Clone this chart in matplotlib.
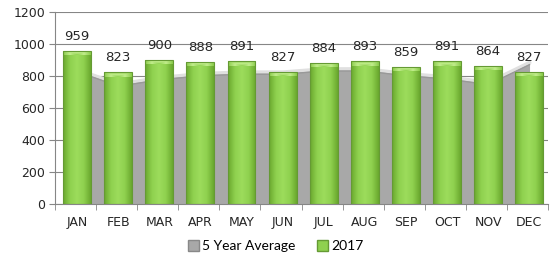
import numpy as np
import matplotlib.pyplot as plt
from matplotlib.colors import LinearSegmentedColormap

months = ['JAN', 'FEB', 'MAR', 'APR', 'MAY', 'JUN', 'JUL', 'AUG', 'SEP', 'OCT', 'NOV', 'DEC']
values_2017 = [959, 823, 900, 888, 891, 827, 884, 893, 859, 891, 864, 827]
avg_5yr = [840, 750, 790, 815, 825, 825, 845, 845, 815, 795, 760, 885]
y_ticks = [0, 200, 400, 600, 800, 1000, 1200]

fig = plt.figure(figsize=(5.51, 2.62), dpi=100)
ax = fig.add_axes([0.0998, 0.2214, 0.8948, 0.7328])

x = np.arange(len(months))

# 5 year average as area behind the bars
ax.fill_between(x + 0.05, avg_5yr, 0, color='#a8a8a8', zorder=1, linewidth=0)
ax.plot(x + 0.05, avg_5yr, color='#e0e0e0', lw=2.4, zorder=1.5)
ax.plot(x + 0.05, np.array(avg_5yr) - 14, color='#999999', lw=1.0, zorder=1.5)

# 2017 bars, with a shaded look
green = LinearSegmentedColormap.from_list('g', ['#6aa82e', '#8fd14f', '#9ddc5c', '#8fd14f', '#6aa82e'])
cap = LinearSegmentedColormap.from_list('c', ['#8fd14f', '#c8f094', '#8fd14f'])
bars = ax.bar(x + 0.04, values_2017, width=0.68, color='none', edgecolor='#659a34',
              linewidth=0.8, zorder=3)
grad = np.linspace(0, 1, 64).reshape(1, -1)
for b in bars:
    x0, w, h = b.get_x(), b.get_width(), b.get_height()
    im = ax.imshow(grad, cmap=green, extent=[x0, x0 + w, 0, h], aspect='auto', zorder=2)
    im.set_clip_path(b)
    vg = np.linspace(0, 1, 32).reshape(-1, 1) * np.ones((1, 64))
    capimg = np.minimum(vg, 1 - np.abs(grad - 0.5) * 2)
    im2 = ax.imshow(capimg, cmap=cap, extent=[x0, x0 + w, h - 28, h], aspect='auto',
                    zorder=2.2, origin='upper', alpha=0.9)
    im2.set_clip_path(b)

for xi, v in zip(x, values_2017):
    ax.text(xi + 0.04, v + 50, str(v), ha='center', va='bottom', fontsize=9.5,
            color='#262626', zorder=5)

ax.set_xlim(-0.5, 11.5)
ax.set_ylim(0, 1200)
ax.set_yticks(y_ticks)
ax.set_yticklabels([str(t) for t in y_ticks], fontsize=9, color='#262626')
ax.set_xticks(x + 0.04)
ax.set_xticklabels(months, fontsize=9, color='#262626')
ax.set_xticks(np.arange(-0.5, 12, 1), minor=True)
ax.tick_params(axis='x', which='major', length=0, pad=9)
ax.tick_params(axis='x', which='minor', length=4, color='#868686')
ax.tick_params(axis='y', length=4, color='#868686', pad=3)

ax.grid(axis='y', color='#868686', lw=0.8, zorder=0)
ax.set_axisbelow(True)
for s in ['top', 'right']:
    ax.spines[s].set_visible(False)
for s in ['left', 'bottom']:
    ax.spines[s].set_color('#868686')

h1 = plt.Rectangle((0, 0), 1, 1, facecolor='#a8a8a8', edgecolor='#888888')
h2 = plt.Rectangle((0, 0), 1, 1, facecolor='#8fd14f', edgecolor='#659a34')
fig.legend([h1, h2], ['5 Year Average', '2017'], loc='center', bbox_to_anchor=(0.5, 0.06),
           ncol=2, frameon=False, prop={'family': 'Lato', 'size': 10},
           handlelength=0.8, handleheight=0.8, handletextpad=0.2, columnspacing=1.6)

fig.savefig('out.png', dpi=100)
